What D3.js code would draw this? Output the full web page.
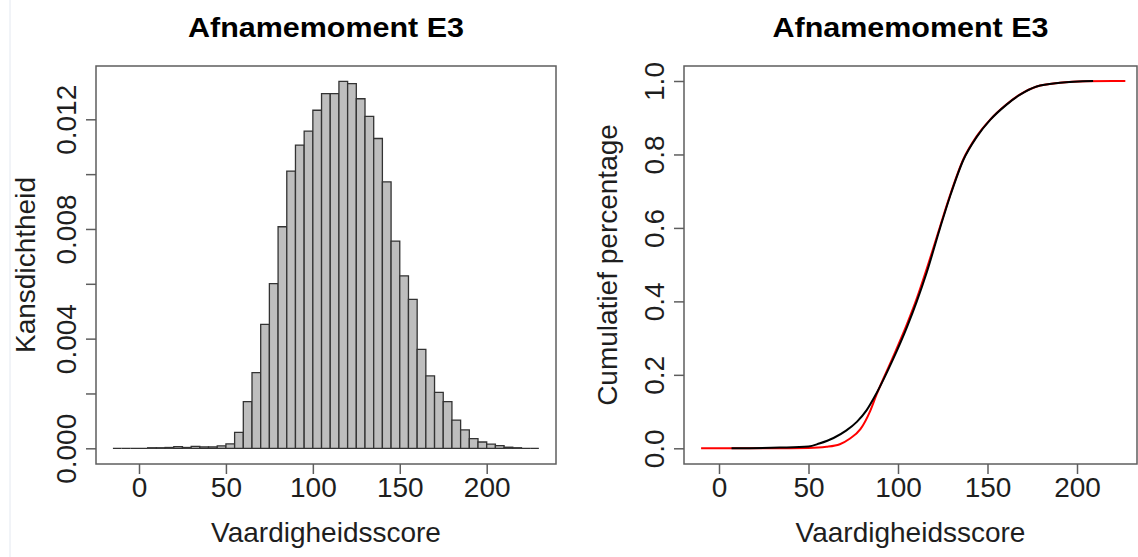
<!DOCTYPE html>
<html>
<head>
<meta charset="utf-8">
<script src="https://cdn.jsdelivr.net/npm/d3@7"></script>
<style>
  html, body { margin: 0; padding: 0; background: #fff; }
  svg { display: block; font-family: "Liberation Sans", Arial, sans-serif; }
</style>
</head>
<body>
<svg id="chart" width="1138" height="557"></svg>
<script>
// histogram bins (Vaardigheidsscore) and their densities
const binEdges = [-15, -10, -5, 0, 5, 10, 15, 20, 25, 30, 35, 40, 45, 50, 55, 60, 65, 70, 75, 80,
  85, 90, 95, 100, 105, 110, 115, 120, 125, 130, 135, 140, 145, 150, 155, 160, 165, 170, 175, 180,
  185, 190, 195, 200, 205, 210, 215, 220, 225, 230];
const densities = [0, 0, 0, 0, 0.00002, 0.00002, 0.00003, 0.00006, 0.00003, 0.00007, 0.00005, 0.00005, 0.00009,
  0.00016, 0.00058, 0.0017, 0.00276, 0.00452, 0.00601, 0.00808, 0.01011, 0.01106, 0.01157, 0.01233,
  0.01294, 0.01294, 0.01338, 0.0133, 0.01275, 0.01211, 0.0113, 0.00972, 0.00756, 0.00629, 0.00543,
  0.00361, 0.00264, 0.00204, 0.0017, 0.00103, 0.00067, 0.00035, 0.00023, 0.00015, 0.0001, 0.00004,
  0.00002, 0, 0];

// empirical cumulative curve (black)
const ecdfScores = [7, 34, 50, 56, 64, 71, 77, 82.5, 88, 97, 105, 110.5, 116, 123.5, 129, 136.5, 144, 151.5, 160.5, 168, 177.5, 190.5, 209];
const ecdfValues = [0, 0.002, 0.005, 0.013, 0.028, 0.048, 0.072, 0.104, 0.15, 0.24, 0.33, 0.4, 0.478, 0.6, 0.685, 0.785, 0.848, 0.894, 0.935, 0.962, 0.985, 0.995, 1];

// fitted cumulative curve (red)
const fitScores = [-10, 30, 50, 60, 67.5, 73, 79, 84.5, 88, 97, 105, 110.5, 116, 123.5, 129, 136.5, 144, 151.5, 160.5, 168, 177.5, 190.5, 205, 227];
const fitValues = [0, 0, 0.001, 0.004, 0.011, 0.026, 0.052, 0.102, 0.146, 0.246, 0.338, 0.408, 0.488, 0.604, 0.688, 0.787, 0.85, 0.895, 0.936, 0.963, 0.985, 0.995, 0.999, 1];

const scoreTicks = [0, 50, 100, 150, 200];
const densityTicks = [0, 0.002, 0.004, 0.006, 0.008, 0.010, 0.012];
const densityLabels = ["0.000", "", "0.004", "", "0.008", "", "0.012"];
const cumTicks = [0, 0.2, 0.4, 0.6, 0.8, 1.0];
const cumLabels = ["0.0", "0.2", "0.4", "0.6", "0.8", "1.0"];

const title = "Afnamemoment E3";
const xTitle = "Vaardigheidsscore";

const FONT = 28;
const FRAME = "#5e5e5e";
const svg = d3.select("#chart");

// faint border line of the screenshot
svg.append("line").attr("x1", 10).attr("x2", 10).attr("y1", 0).attr("y2", 557)
  .attr("stroke", "#e3e8f0").attr("stroke-width", 1);

function styleAxis(g) {
  g.select(".domain").remove();
  g.selectAll(".tick line").attr("stroke", FRAME).attr("stroke-width", 1.5);
  g.selectAll(".tick text").attr("fill", "#1e1e1e").attr("font-size", FONT);
}

function panel(box, xRange, yRange, yDomain, yTicks, yLabels, yTitle, yTitleX) {
  const x = d3.scaleLinear().domain([0, 200]).range(xRange);
  const y = d3.scaleLinear().domain(yDomain).range(yRange);

  const g = svg.append("g");

  // x axis
  const gx = g.append("g")
    .attr("transform", `translate(0,${box.bottom})`)
    .call(d3.axisBottom(x).tickValues(scoreTicks).tickSize(10).tickSizeOuter(0).tickFormat(d3.format("d")));
  styleAxis(gx);
  gx.selectAll(".tick text").attr("y", 33).attr("dy", 0);

  // y axis
  const gy = g.append("g")
    .attr("transform", `translate(${box.left},0)`)
    .call(d3.axisLeft(y).tickValues(yTicks).tickSize(10).tickSizeOuter(0).tickFormat((d, i) => yLabels[i]));
  styleAxis(gy);
  gy.selectAll(".tick text")
    .attr("x", 0).attr("y", -20).attr("dy", 0)
    .attr("text-anchor", "middle")
    .attr("transform", "rotate(-90)");

  // titles
  g.append("text")
    .attr("x", (box.left + box.right) / 2).attr("y", 37)
    .attr("text-anchor", "middle").attr("font-weight", "bold").attr("font-size", 27)
    .attr("textLength", 276).attr("lengthAdjust", "spacingAndGlyphs")
    .attr("fill", "#000").text(title);
  g.append("text")
    .attr("x", (box.left + box.right) / 2).attr("y", 542)
    .attr("text-anchor", "middle").attr("font-size", FONT).attr("fill", "#1e1e1e").text(xTitle);
  g.append("text")
    .attr("transform", `translate(${yTitleX},${(box.top + box.bottom) / 2}) rotate(-90)`)
    .attr("text-anchor", "middle").attr("font-size", FONT).attr("fill", "#1e1e1e").text(yTitle);

  return { g, x, y };
}

// ---- left: histogram ----
const leftBox = { left: 96, right: 556, top: 66, bottom: 464 };
const left = panel(leftBox, [139, 486.7], [448.3, 119.3], [0, 0.012], densityTicks, densityLabels, "Kansdichtheid", 35);

// bars as closed paths so that empty bins still show as a line on the baseline
left.g.selectAll(".bar")
  .data(densities)
  .enter()
  .append("path")
  .classed("bar", true)
  .attr("d", (d, i) => {
    const x0 = left.x(binEdges[i]), x1 = left.x(binEdges[i + 1]);
    const y0 = left.y(0), y1 = left.y(d);
    return `M${x0},${y0}V${y1}H${x1}V${y0}Z`;
  })
  .attr("fill", "#bebebe")
  .attr("stroke", "#333")
  .attr("stroke-width", 1.3);

left.g.append("rect")
  .attr("x", leftBox.left).attr("y", leftBox.top)
  .attr("width", leftBox.right - leftBox.left).attr("height", leftBox.bottom - leftBox.top)
  .attr("fill", "none").attr("stroke", FRAME).attr("stroke-width", 1.5);

// ---- right: cumulative curves ----
const rightBox = { left: 684, right: 1137, top: 66, bottom: 464 };
const right = panel(rightBox, [719, 1077], [448.3, 81], [0, 1], cumTicks, cumLabels, "Cumulatief percentage", 617);

const line = d3.line()
  .x(d => right.x(d[0]))
  .y(d => right.y(d[1]))
  .curve(d3.curveMonotoneX);

right.g.append("path")
  .datum(d3.zip(fitScores, fitValues))
  .attr("d", line)
  .attr("fill", "none").attr("stroke", "#ff0000").attr("stroke-width", 2);

right.g.append("path")
  .datum(d3.zip(ecdfScores, ecdfValues))
  .attr("d", line)
  .attr("fill", "none").attr("stroke", "#000").attr("stroke-width", 2);

right.g.append("rect")
  .attr("x", rightBox.left).attr("y", rightBox.top)
  .attr("width", rightBox.right - rightBox.left).attr("height", rightBox.bottom - rightBox.top)
  .attr("fill", "none").attr("stroke", FRAME).attr("stroke-width", 1.5);
</script>
</body>
</html>
